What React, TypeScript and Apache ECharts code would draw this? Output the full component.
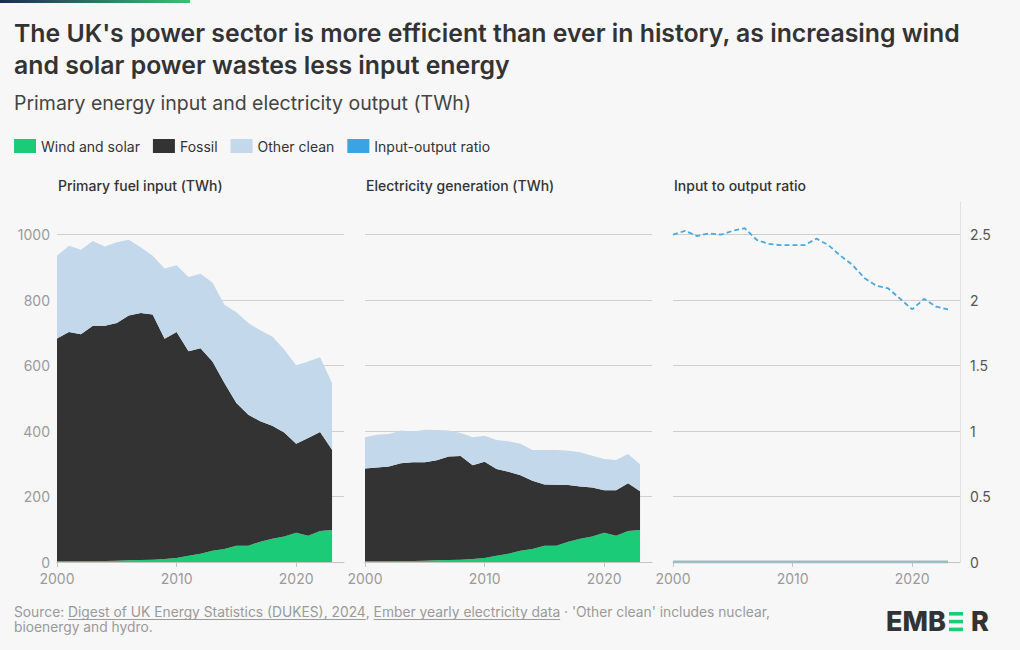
import React, { useEffect, useRef } from "react";
import * as echarts from "echarts";

// Category axis (2024 is only the right edge of each panel)
const years = [
  "2000", "2001", "2002", "2003", "2004", "2005", "2006", "2007", "2008", "2009",
  "2010", "2011", "2012", "2013", "2014", "2015", "2016", "2017", "2018", "2019",
  "2020", "2021", "2022", "2023", "2024",
];

// TWh (wind and solar input equals its generation)
const windSolar = [2, 2, 2, 3, 3, 4, 5, 6, 7, 9, 12, 19, 25, 34, 40, 50, 50, 62, 71, 78, 89, 80, 95, 98];
const fossilInput = [681, 701, 694, 719, 719, 726, 748, 755, 749, 673, 691, 625, 628, 579, 507, 436, 400, 368, 345, 318, 272, 299, 302, 245];
const otherCleanInput = [253, 263, 258, 259, 242, 247, 232, 201, 180, 215, 204, 227, 228, 241, 239, 277, 280, 278, 273, 253, 240, 234, 229, 204];
const fossilOutput = [284, 287, 290, 299, 302, 301, 306, 316, 317, 287, 294, 265, 251, 231, 208, 187, 186, 173, 160, 150, 130, 139, 146, 118];
const otherCleanOutput = [95, 100, 99, 100, 94, 99, 92, 80, 70, 85, 80, 89, 93, 96, 94, 105, 106, 105, 104, 97, 96, 93, 89, 83];
const ratio = [2.5, 2.53, 2.49, 2.51, 2.5, 2.53, 2.55, 2.46, 2.43, 2.42, 2.42, 2.42, 2.47, 2.42, 2.34, 2.27, 2.17, 2.11, 2.09, 2.01, 1.93, 2.01, 1.95, 1.93];
const ratioBaseline = [0, 0, 0, 0, 0, 0, 0, 0, 0, 0, 0, 0, 0, 0, 0, 0, 0, 0, 0, 0, 0, 0, 0, 0];

const legendNames = ["Wind and solar", "Fossil", "Other clean", "Input-output ratio"];
const panelTitles = ["Primary fuel input (TWh)", "Electricity generation (TWh)", "Input to output ratio"];

const GREEN = "#1ccb78";
const FOSSIL = "#333333";
const OTHER = "#c3d8ea";
const RATIO = "#3ba3e3";
const FONT = "Inter, 'Noto Sans', sans-serif";

function measure(text: string, font: string): number {
  const c = document.createElement("canvas").getContext("2d");
  if (!c) return text.length * 6.5;
  c.font = font;
  return c.measureText(text).width;
}

export default function App() {
  const ref = useRef<HTMLDivElement>(null);

  useEffect(() => {
    if (!ref.current) return;
    const chart = echarts.init(ref.current, undefined, { renderer: "svg" });

    const gridLefts = [57, 365, 673];
    const grids = gridLefts.map((l) => ({ left: l, top: 202, width: 287, height: 360 }));

    const tickFn = (_i: number, v: string) => Number(v) % 10 === 0;
    const xAxes = [0, 1, 2].map((i) => ({
      type: "category",
      gridIndex: i,
      data: years,
      boundaryGap: false,
      axisLine: { show: true, lineStyle: { color: "#c4c4c4", width: 1 } },
      axisTick: { show: true, interval: tickFn, length: 5, lineStyle: { color: "#c4c4c4" } },
      axisLabel: { interval: tickFn, color: "#9a9a9a", fontSize: 14, margin: 9, fontFamily: FONT },
      splitLine: { show: false },
    }));

    const splitLine = { show: true, showMaxLine: false, lineStyle: { color: "#cfcfcf", width: 1 } };
    const yAxes = [
      {
        type: "value", gridIndex: 0, min: 0, max: 1100, interval: 200,
        axisLine: { show: false }, axisTick: { show: false },
        axisLabel: { color: "#9a9a9a", fontSize: 14, margin: 7, fontFamily: FONT, showMaxLabel: false,
          formatter: (v: number) => (v > 1000 ? "" : String(v)) },
        splitLine,
      },
      {
        type: "value", gridIndex: 1, min: 0, max: 1100, interval: 200,
        axisLine: { show: false }, axisTick: { show: false },
        axisLabel: { show: false },
        splitLine,
      },
      {
        type: "value", gridIndex: 2, position: "right", min: 0, max: 2.75, interval: 0.5,
        axisLine: { show: true, lineStyle: { color: "#e2e2e2" } }, axisTick: { show: false },
        axisLabel: { color: "#555", fontSize: 14, margin: 10, fontFamily: FONT, showMaxLabel: false,
          formatter: (v: number) => (v > 2.5 ? "" : String(v)) },
        splitLine,
      },
    ];

    const area = (name: string, data: number[], color: string, idx: number, stack: string) => ({
      name, type: "line", data, xAxisIndex: idx, yAxisIndex: idx, stack,
      symbol: "none", color,
      lineStyle: { width: 0, color },
      areaStyle: { color, opacity: 1 },
      z: 2,
    });

    const series: any[] = [
      area(legendNames[0], windSolar, GREEN, 0, "in"),
      area(legendNames[1], fossilInput, FOSSIL, 0, "in"),
      area(legendNames[2], otherCleanInput, OTHER, 0, "in"),
      area(legendNames[0], windSolar, GREEN, 1, "out"),
      area(legendNames[1], fossilOutput, FOSSIL, 1, "out"),
      area(legendNames[2], otherCleanOutput, OTHER, 1, "out"),
      {
        name: "baseline", type: "line", data: ratioBaseline, xAxisIndex: 2, yAxisIndex: 2,
        symbol: "none", color: "#9dbdc1", lineStyle: { width: 3, color: "#9dbdc1" }, z: 3,
      },
      {
        name: legendNames[3], type: "line", data: ratio, xAxisIndex: 2, yAxisIndex: 2,
        symbol: "none", color: RATIO,
        lineStyle: { width: 1.8, color: "#4aa9df", type: [5, 3] }, z: 4,
      },
    ];

    // footer
    const footFont = `13.8px ${FONT}`;
    const segs: [string, boolean][] = [
      ["Source: ", false],
      ["Digest of UK Energy Statistics (DUKES), 2024", true],
      [", ", false],
      ["Ember yearly electricity data", true],
      [" · 'Other clean' includes nuclear,", false],
    ];
    const footEls: any[] = [];
    let fx = 14;
    segs.forEach(([t, link]) => {
      const w = measure(t, footFont);
      footEls.push({ type: "text", left: fx, top: 605, style: { text: t, font: footFont, fill: "#9a9a9a" } });
      if (link) {
        footEls.push({ type: "line", shape: { x1: fx, y1: 619.5, x2: fx + w, y2: 619.5 }, style: { stroke: "#9a9a9a", lineWidth: 1 } });
      }
      fx += w;
    });
    footEls.push({ type: "text", left: 14, top: 620, style: { text: "bioenergy and hydro.", font: footFont, fill: "#9a9a9a" } });

    const logoFont = `800 27px ${FONT}`;
    const logo: any[] = [
      { type: "text", left: 886, top: 608, style: { text: "EMB", font: logoFont, fill: "#333" } },
      { type: "rect", shape: { x: 949, y: 612, width: 14, height: 3.6 }, style: { fill: GREEN } },
      { type: "rect", shape: { x: 949, y: 619.8, width: 14, height: 3.6 }, style: { fill: GREEN } },
      { type: "rect", shape: { x: 949, y: 627.6, width: 14, height: 3.6 }, style: { fill: GREEN } },
      { type: "text", left: 971, top: 608, style: { text: "R", font: logoFont, fill: "#333" } },
    ];

    const option: any = {
      animation: false,
      backgroundColor: "#f7f7f7",
      grid: grids,
      xAxis: xAxes,
      yAxis: yAxes,
      legend: {
        left: 14, top: 139, padding: 0, icon: "rect", itemWidth: 22, itemHeight: 14, itemGap: 13,
        selectedMode: false,
        textStyle: { color: "#333", fontSize: 14, fontFamily: FONT },
        data: [
          { name: legendNames[0] },
          { name: legendNames[1] },
          { name: legendNames[2] },
          { name: legendNames[3], itemStyle: { color: RATIO, borderWidth: 0 } },
        ],
      },
      graphic: [
        {
          type: "rect", shape: { x: 0, y: 0, width: 190, height: 3 },
          style: {
            fill: new echarts.graphic.LinearGradient(0, 0, 1, 0, [
              { offset: 0, color: "#1b2b55" },
              { offset: 1, color: "#3fbf72" },
            ]),
          },
        },
        {
          type: "text", left: 14, top: 17,
          style: {
            text: "The UK's power sector is more efficient than ever in history, as increasing wind\nand solar power wastes less input energy",
            font: `600 24.8px ${FONT}`, fill: "#333", lineHeight: 32,
          },
        },
        {
          type: "text", left: 14, top: 93,
          style: { text: "Primary energy input and electricity output (TWh)", font: `19.5px ${FONT}`, fill: "#444" },
        },
        ...panelTitles.map((t, i) => ({
          type: "text", left: gridLefts[i] + 1, top: 178,
          style: { text: t, font: `500 14px ${FONT}`, fill: "#333" },
        })),
        ...footEls,
        ...logo,
      ],
      series,
    };

    chart.setOption(option);
    return () => chart.dispose();
  }, []);

  return (
    <div
      ref={ref}
      style={{ position: "fixed", left: 0, top: 0, width: 1020, height: 650 }}
    />
  );
}
